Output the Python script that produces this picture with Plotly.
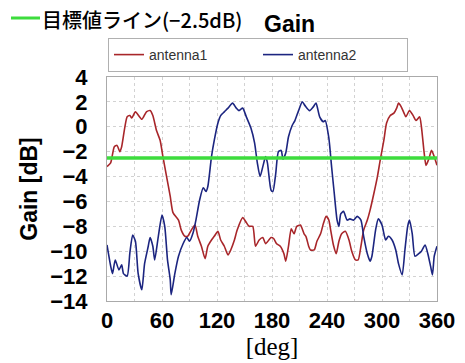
import plotly.graph_objects as go

# antenna1 (red)
a1_deg = [0, 4, 8, 11, 14, 16, 22, 25, 27, 31, 38, 43, 47, 50, 54, 58, 61, 65, 69, 72, 78, 81, 85, 88,
          92, 96, 99, 103, 107, 110, 114, 117, 121, 124, 128, 132, 135, 139, 142, 148, 152, 155, 159,
          162, 166, 170, 173, 179, 182, 185, 189, 193, 195, 198, 201, 204, 207, 211, 215, 217, 220,
          222, 226, 229, 233, 236, 239, 242, 244, 247, 250, 253, 256, 260, 264, 267, 271, 274, 277,
          280, 284, 287, 291, 295, 298, 302, 305, 309, 313, 316, 318, 321, 324, 326, 330, 334, 337,
          341, 343, 346, 348, 351, 354, 357, 360]
a1_val = [-3.2, -2.9, -1.6, -1.5, -2.0, -1.6, 0.8, 0.9, 0.7, 1.2, 0.6, 1.2, 1.3, 0.9, -0.3, -1.1, -2.4,
          -4.0, -5.6, -6.9, -7.5, -8.3, -8.8, -8.8, -8.3, -7.9, -8.8, -9.6, -10.6, -9.6, -9.1, -8.8,
          -8.4, -9.1, -9.6, -10.3, -9.9, -9.1, -8.3, -7.3, -7.7, -8.0, -8.0, -9.6, -9.1, -8.9, -9.4,
          -8.9, -9.0, -9.4, -9.6, -10.2, -10.8, -9.6, -8.2, -8.6, -8.0, -7.9, -8.6, -8.8, -9.6, -9.9,
          -9.9, -9.2, -8.6, -7.8, -7.2, -7.5, -8.3, -9.5, -10.2, -9.2, -8.6, -8.4, -9.1, -10.0, -10.7,
          -10.7, -9.6, -8.3, -7.5, -6.7, -5.4, -4.0, -2.7, -1.1, 0.3, 0.9, 1.1, 1.5, 1.9, 1.6, 1.1, 0.8,
          1.3, 0.9, 0.5, 0.8, 0.0, -2.1, -3.1, -2.6, -1.9, -2.4, -3.1]

# antenna2 (blue)
a2_deg = [0, 4, 6, 9, 13, 16, 18, 22, 25, 28, 31, 34, 38, 41, 45, 47, 50, 52, 56, 60, 63, 66, 69, 70,
          74, 78, 83, 87, 90, 94, 97, 101, 105, 108, 110, 114, 117, 121, 124, 128, 132, 137, 141, 144,
          148, 152, 157, 161, 164, 167, 170, 173, 175, 179, 181, 184, 187, 190, 192, 195, 198, 202,
          205, 209, 213, 216, 221, 225, 228, 232, 236, 238, 242, 245, 248, 251, 253, 255, 258, 262,
          265, 269, 273, 277, 280, 284, 287, 289, 293, 296, 300, 304, 307, 311, 315, 318, 322, 325,
          328, 330, 333, 336, 340, 343, 347, 350, 353, 355, 357, 360]
a2_val = [-9.5, -11.2, -11.8, -10.7, -11.5, -11.1, -11.8, -12.0, -10.1, -8.7, -9.2, -11.8, -13.1,
          -11.0, -9.6, -8.9, -9.6, -10.7, -8.8, -7.1, -8.0, -10.7, -12.3, -13.5, -11.8, -10.4, -9.4,
          -8.9, -9.2, -8.5, -7.5, -5.9, -4.9, -5.2, -4.8, -2.4, -1.1, 0.3, 0.9, 1.2, 1.5, 1.9, 1.5, 1.3,
          1.5, 0.8, -0.1, -1.3, -2.9, -4.0, -3.2, -2.4, -2.9, -5.1, -5.2, -3.8, -2.0, -1.9, -2.6, -2.1,
          -0.8, 0.1, 0.5, 1.3, 2.0, 1.7, 1.3, 1.6, 1.9, 0.8, 0.4, 0.5, -0.9, -3.2, -5.4, -7.5, -8.0,
          -7.0, -6.8, -7.5, -7.4, -7.5, -7.2, -7.5, -8.8, -10.2, -10.8, -10.4, -8.3, -7.4, -7.9, -9.1,
          -8.8, -9.1, -9.9, -11.0, -11.9, -9.9, -8.0, -7.5, -8.6, -10.4, -10.2, -10.0, -9.5, -10.2,
          -11.2, -11.9, -10.4, -9.6]

target_db = -2.5
x_ticks = [0, 60, 120, 180, 240, 300, 360]
y_ticks = [4, 2, 0, -2, -4, -6, -8, -10, -12, -14]
y_labels = ["4", "2", "0", "\u22122", "\u22124", "\u22126", "\u22128", "\u221210", "\u221212", "\u221214"]

W, H = 465, 363
ML, MR, MT, MB = 107, 28, 77, 62
pw = W - ML - MR
ph = H - MT - MB


def px_x(px):
    return (px - ML) / pw


def px_y(py):
    return 1 - (py - MT) / ph


fig = go.Figure()
fig.add_trace(go.Scatter(x=a1_deg, y=a1_val, mode="lines", name="antenna1",
                         line=dict(color="#a8262a", width=1.6, shape="spline", smoothing=0.6)))
fig.add_trace(go.Scatter(x=a2_deg, y=a2_val, mode="lines", name="antenna2",
                         line=dict(color="#1c2580", width=1.6, shape="spline", smoothing=0.6)))
fig.add_trace(go.Scatter(x=[0, 360], y=[target_db, target_db], mode="lines", showlegend=False,
                         line=dict(color="#3ddc3d", width=3.5)))

fig.update_layout(
    width=W, height=H,
    margin=dict(l=ML, r=MR, t=MT, b=MB, autoexpand=False),
    paper_bgcolor="white", plot_bgcolor="white",
    showlegend=True,
    legend=dict(orientation="h", x=px_x(108), xref="paper", y=1 - 38 / H, yref="container",
                xanchor="left", yanchor="top",
                bordercolor="#b0b0b0", borderwidth=1, bgcolor="white",
                font=dict(family="Liberation Sans, Arial", size=14, color="#333"),
                entrywidth=104, entrywidthmode="pixels", itemwidth=30,
                tracegroupgap=0),
    xaxis=dict(range=[0, 360], tickvals=x_ticks, ticktext=[str(v) for v in x_ticks],
               showgrid=True, gridcolor="#d2d2d2", griddash="dot", gridwidth=1,
               minor=dict(dtick=30, showgrid=True, gridcolor="#d2d2d2", griddash="dot"),
               showline=True, linecolor="#aaaaaa", mirror=True, zeroline=False,
               ticks="", tickfont=dict(family="Liberation Sans, Arial", size=22, color="black", weight="bold"),
               title=dict(text="[deg]", font=dict(family="Liberation Serif, Times New Roman", size=25, color="black"),
                          standoff=0)),
    yaxis=dict(range=[-14, 4], tickvals=y_ticks, ticktext=y_labels,
               showgrid=True, gridcolor="#d2d2d2", griddash="dot", gridwidth=1,
               showline=True, linecolor="#aaaaaa", mirror=True, zeroline=False,
               ticks="", ticklabelstandoff=14,
               tickfont=dict(family="Liberation Sans, Arial", size=22, color="black", weight="bold"),
               title=dict(text="Gain [dB]", font=dict(family="Liberation Sans, Arial", size=23, color="black", weight="bold"),
                          standoff=6)),
    annotations=[
        dict(text="Gain", x=px_x(289), xref="paper", y=px_y(24), yref="paper",
             xanchor="center", yanchor="middle",
             showarrow=False, font=dict(family="Liberation Sans, Arial", size=23, color="black", weight=600)),
        dict(text="\u76ee\u6a19\u5024\u30e9\u30a4\u30f3(\u22122.5dB)", x=px_x(40), y=px_y(19),
             xref="paper", yref="paper",
             xanchor="left", yanchor="middle", showarrow=False,
             font=dict(family="Noto Sans CJK JP", size=20, color="black", weight=500)),
    ],
)

fig.add_shape(type="line", xref="paper", yref="paper",
              x0=px_x(11), x1=px_x(40), y0=px_y(18), y1=px_y(18),
              line=dict(color="#3ddc3d", width=3))

fig.write_html("out.html")
